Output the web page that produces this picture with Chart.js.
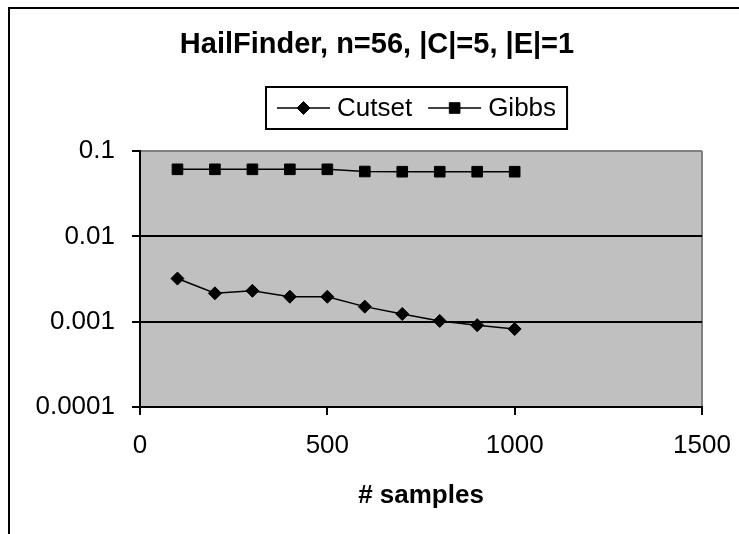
<!DOCTYPE html>
<html>
<head>
<meta charset="utf-8">
<title>HailFinder</title>
<script src="https://cdn.jsdelivr.net/npm/chart.js@4.4.1/dist/chart.umd.min.js"></script>
<style>
    html, body { margin: 0; padding: 0; background: #fff; }
    canvas { display: block; }
</style>
</head>
<body>
<canvas id="hailChart" width="739" height="534"></canvas>
<script>
// Datos: error absoluto frente al numero de muestras
const samples = [100, 200, 300, 400, 500, 600, 700, 800, 900, 1000];
const cutsetError = [0.0032, 0.00215, 0.0023, 0.00196, 0.00196, 0.0015, 0.00123, 0.00102, 0.00091, 0.00082];
const gibbsError = [0.061, 0.061, 0.061, 0.061, 0.061, 0.0575, 0.0572, 0.0572, 0.0572, 0.0572];

const xTicks = [0, 500, 1000, 1500];
const yTicks = [0.0001, 0.001, 0.01, 0.1];
const seriesNames = ['Cutset', 'Gibbs'];

const FONT = '"Liberation Sans", Arial, sans-serif';

const toPoints = (values) => values.map((v, i) => ({ x: samples[i], y: v }));

// Fondo gris del area de trazado + marco exterior (solo arriba e izquierda)
const plotBackground = {
    id: 'plotBackground',
    afterLayout(chart) {
        // el titulo va un poco desplazado a la derecha
        chart.titleBlock.left += 22;
        chart.titleBlock.right += 22;
    },
    beforeDraw(chart) {
        const { ctx, chartArea } = chart;
        ctx.save();
        ctx.fillStyle = '#c0c0c0';
        ctx.fillRect(chartArea.left, chartArea.top, chartArea.width, chartArea.height);

        ctx.strokeStyle = '#000';
        ctx.lineWidth = 2;
        ctx.beginPath();
        ctx.moveTo(9, chart.height);
        ctx.lineTo(9, 8);
        ctx.lineTo(chart.width, 8);
        ctx.stroke();
        ctx.restore();
    }
};

// Leyenda con caja: linea + marcador + nombre de la serie
const boxedLegend = {
    id: 'boxedLegend',
    afterDraw(chart) {
        const { ctx } = chart;
        const lineLen = 53;
        const gap = 7;
        const itemGap = 16;
        const padX = 11;
        const centerX = 417;
        const top = 87;
        const height = 42;
        const midY = top + height / 2;

        ctx.save();
        ctx.font = `26px ${FONT}`;
        const widths = chart.data.datasets.map(ds => ctx.measureText(ds.label).width);
        const total = padX * 2 + widths.reduce((a, w) => a + lineLen + gap + w, 0) + itemGap * (widths.length - 1);
        const left = Math.round(centerX - total / 2);

        ctx.strokeStyle = '#000';
        ctx.lineWidth = 2;
        ctx.strokeRect(left, top, total, height);

        let x = left + padX;
        chart.data.datasets.forEach((ds, i) => {
            ctx.strokeStyle = ds.borderColor;
            ctx.lineWidth = ds.borderWidth;
            ctx.beginPath();
            ctx.moveTo(x, midY);
            ctx.lineTo(x + lineLen, midY);
            ctx.stroke();

            ctx.fillStyle = ds.pointBackgroundColor;
            ctx.strokeStyle = ds.pointBorderColor;
            ctx.lineWidth = 1;
            Chart.helpers.drawPoint(ctx, {
                pointStyle: ds.pointStyle,
                radius: ds.pointRadius,
                borderWidth: 1,
                rotation: 0
            }, x + lineLen / 2, midY);

            ctx.fillStyle = '#000';
            ctx.textBaseline = 'middle';
            ctx.textAlign = 'left';
            ctx.fillText(ds.label, x + lineLen + gap, midY + 1);
            x += lineLen + gap + widths[i] + itemGap;
        });
        ctx.restore();
    }
};

const ctx = document.getElementById('hailChart').getContext('2d');

new Chart(ctx, {
    type: 'line',
    data: {
        datasets: [
            {
                label: seriesNames[0],
                data: toPoints(cutsetError),
                borderColor: '#000',
                backgroundColor: '#000',
                borderWidth: 1.5,
                pointStyle: 'rectRot',
                pointRadius: 6.5,
                pointBackgroundColor: '#000',
                pointBorderColor: '#000',
                pointBorderWidth: 1,
                tension: 0
            },
            {
                label: seriesNames[1],
                data: toPoints(gibbsError),
                borderColor: '#000',
                backgroundColor: '#000',
                borderWidth: 1.5,
                pointStyle: 'rect',
                pointRadius: 7.5,
                pointBackgroundColor: '#000',
                pointBorderColor: '#000',
                pointBorderWidth: 1,
                tension: 0
            }
        ]
    },
    options: {
        responsive: false,
        animation: false,
        layout: {
            padding: { top: 0, left: 8, right: 37, bottom: 0 }
        },
        plugins: {
            legend: { display: false },
            tooltip: { enabled: false },
            title: {
                display: true,
                text: 'HailFinder, n=56, |C|=5, |E|=1',
                color: '#000',
                font: { family: FONT, size: 29, weight: 'bold', lineHeight: 1.2 },
                padding: { top: 28, bottom: 88.2 }
            }
        },
        scales: {
            x: {
                type: 'linear',
                min: 0,
                max: 1500,
                afterBuildTicks: (scale) => {
                    scale.ticks = xTicks.map(v => ({ value: v }));
                },
                afterFit: (scale) => {
                    scale.height = 127;
                    // las etiquetas pueden salirse del area, sin recortar el grafico
                    scale.paddingLeft = 0;
                    scale.paddingRight = 0;
                },
                ticks: {
                    color: '#000',
                    padding: 15,
                    maxRotation: 0,
                    font: { family: FONT, size: 26, lineHeight: 1.2 },
                    callback: (value) => String(value)
                },
                grid: {
                    color: (c) => (c.tick && c.tick.value === 1500 ? '#808080' : 'rgba(0,0,0,0)'),
                    tickColor: '#000',
                    tickLength: 8,
                    lineWidth: 2
                },
                border: { color: '#000', width: 2 },
                title: {
                    display: true,
                    text: '# samples',
                    color: '#000',
                    font: { family: FONT, size: 26, weight: 'bold', lineHeight: 1.2 },
                    padding: { top: 0, bottom: 23 }
                }
            },
            y: {
                type: 'logarithmic',
                min: 0.0001,
                max: 0.1,
                afterBuildTicks: (scale) => {
                    scale.ticks = yTicks.map(v => ({ value: v }));
                },
                afterFit: (scale) => {
                    scale.width = 132;
                },
                ticks: {
                    color: '#000',
                    padding: 17,
                    font: { family: FONT, size: 26, lineHeight: 1.2 },
                    callback: (value) => String(value)
                },
                grid: {
                    color: (c) => (c.tick && c.tick.value === 0.1 ? '#808080' : '#000'),
                    tickColor: '#000',
                    tickLength: 8,
                    lineWidth: 2
                },
                border: { color: '#000', width: 2 }
            }
        }
    },
    plugins: [plotBackground, boxedLegend]
});
</script>
</body>
</html>
